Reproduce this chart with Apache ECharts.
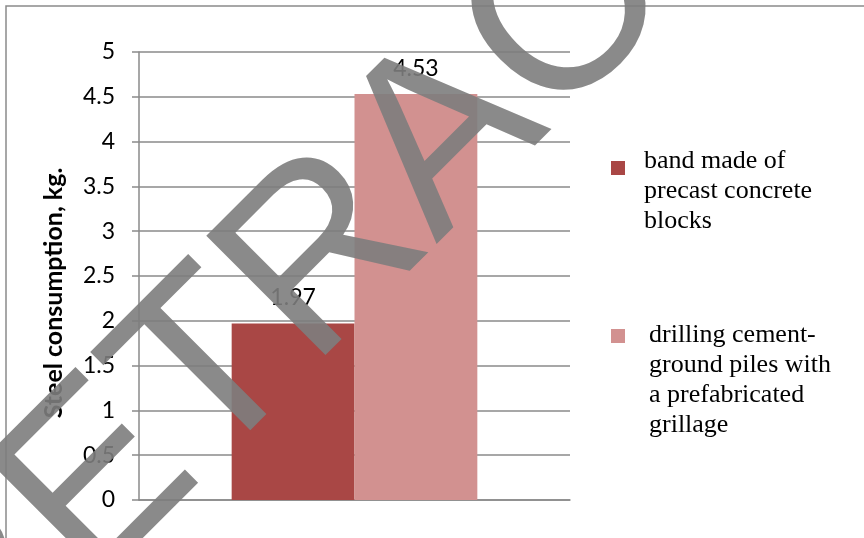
<!DOCTYPE html>
<html>
<head>
<meta charset="utf-8">
<script src="https://cdn.jsdelivr.net/npm/echarts@6/dist/echarts.min.js"></script>
<style>
html,body{margin:0;padding:0;background:#fff;}
#chart{width:864px;height:538px;}
</style>
</head>
<body>
<div id="chart"></div>
<script>
// ---- data ----
var categories = [''];
var seriesNames = ['band made of precast concrete blocks', 'drilling cement-ground piles with a prefabricated grillage'];
var legendLines = [
  ['band made of', 'precast concrete', 'blocks'],
  ['drilling cement-', 'ground piles with', 'a prefabricated', 'grillage']
];
var valuesBand = [1.97];
var valuesPiles = [4.53];
var yMin = 0, yMax = 5, yStep = 0.5;
var yAxisTitle = 'Steel consumption, kg.';
var watermarkText = 'RETRACTED';

var chart = echarts.init(document.getElementById('chart'));
var gridColor = '#8a8a8a';
var numFont = 'Lato';
var lh = 30;

function legendFor(idx, top, spacer) {
  return {
    data: [seriesNames[idx]],
    left: 611,
    top: top,
    padding: 0,
    orient: 'vertical',
    icon: 'rect',
    itemWidth: 14,
    itemHeight: 14,
    selectedMode: false,
    formatter: function () {
      return '{s| }\n' + legendLines[idx].map(function (l) { return '{t|' + l + '}'; }).join('\n');
    },
    textStyle: {
      fontFamily: 'Liberation Serif',
      fontSize: 26,
      color: '#000',
      rich: {
        s: { fontSize: 4, lineHeight: spacer, padding: [0, 0, 0, idx === 0 ? 14 : 19] },
        t: { fontFamily: 'Liberation Serif', fontSize: 26, lineHeight: lh, color: '#000', padding: [0, 0, 0, idx === 0 ? 14 : 19] }
      }
    }
  };
}

var option = {
  backgroundColor: '#fff',
  animation: false,
  grid: { left: 139, right: 294, top: 52, bottom: 38, containLabel: false },
  legend: [
    legendFor(0, 121, 46),
    legendFor(1, 274, 88)
  ],
  xAxis: {
    type: 'category',
    data: categories,
    axisLine: { show: true, lineStyle: { color: gridColor, width: 1.5 } },
    axisTick: { show: false },
    axisLabel: { show: false }
  },
  yAxis: {
    type: 'value',
    min: yMin,
    max: yMax,
    interval: yStep,
    name: yAxisTitle,
    nameLocation: 'middle',
    nameGap: 73,
    nameRotate: 90,
    nameTextStyle: {
      fontFamily: numFont,
      fontWeight: 'bold',
      fontSize: 25,
      color: '#000',
      padding: [0, 34, 0, 0]
    },
    axisLine: { show: true, lineStyle: { color: gridColor, width: 1.5 } },
    axisTick: { show: true, length: 7, lineStyle: { color: gridColor, width: 1.5 } },
    axisLabel: { fontFamily: numFont, fontSize: 23, color: '#000', margin: 24 },
    splitLine: { show: true, lineStyle: { color: gridColor, width: 1.5 } }
  },
  series: [
    {
      name: seriesNames[0],
      type: 'bar',
      data: valuesBand,
      barGap: '0%',
      barCategoryGap: '43%',
      itemStyle: { color: '#A94745' },
      label: { show: true, position: 'top', distance: 14, fontFamily: numFont, fontSize: 23, color: '#000' }
    },
    {
      name: seriesNames[1],
      type: 'bar',
      data: valuesPiles,
      barGap: '0%',
      barCategoryGap: '43%',
      itemStyle: { color: '#D29190' },
      label: { show: true, position: 'top', distance: 14, fontFamily: numFont, fontSize: 23, color: '#000' }
    }
  ],
  graphic: [
    {
      type: 'rect',
      z: 0,
      silent: true,
      shape: { x: 6, y: 6, width: 920, height: 620 },
      style: { fill: 'none', stroke: '#8a8a8a', lineWidth: 1.5 }
    },
    {
      type: 'text',
      z: 100,
      silent: true,
      x: -83,
      y: 668,
      rotation: Math.PI / 4,
      style: {
        text: watermarkText,
        fontFamily: 'Liberation Sans',
        fontSize: 245,
        fill: 'rgba(125,125,125,0.9)',
        align: 'left',
        verticalAlign: 'middle'
      }
    }
  ]
};
chart.setOption(option);
</script>
</body>
</html>
